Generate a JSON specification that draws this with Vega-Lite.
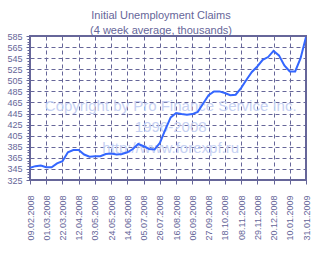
{
  "$schema": "https://vega.github.io/schema/vega-lite/v6.json",
  "width": 276,
  "height": 144,
  "autosize": {"type": "none"},
  "padding": {"left": 30, "top": 36, "right": 15, "bottom": 76},
  "background": "white",
  "title": {
    "text": ["Initial Unemployment Claims", "(4 week average, thousands)"],
    "font": "Liberation Sans",
    "fontSize": 11,
    "fontWeight": "normal",
    "color": "#666699",
    "lineHeight": 15,
    "anchor": "middle",
    "dx": -7,
    "dy": 7,
    "offset": 3
  },
  "config": {
    "view": {"stroke": "#666699", "strokeWidth": 2},
    "axis": {
      "labelFont": "Liberation Sans",
      "labelFontSize": 9,
      "labelColor": "#666699",
      "tickColor": "#666699",
      "domain": false,
      "gridColor": "#666699",
      "gridDash": [4, 3],
      "gridWidth": 1,
      "gridOpacity": 1,
      "title": null
    }
  },
  "data": {"values": [
    {"date": "09.02.2008", "claims": 347},
    {"date": "16.02.2008", "claims": 350},
    {"date": "23.02.2008", "claims": 351},
    {"date": "01.03.2008", "claims": 348},
    {"date": "08.03.2008", "claims": 348},
    {"date": "15.03.2008", "claims": 355},
    {"date": "22.03.2008", "claims": 359},
    {"date": "29.03.2008", "claims": 375},
    {"date": "05.04.2008", "claims": 379},
    {"date": "12.04.2008", "claims": 379},
    {"date": "19.04.2008", "claims": 371},
    {"date": "26.04.2008", "claims": 367},
    {"date": "03.05.2008", "claims": 368},
    {"date": "10.05.2008", "claims": 368},
    {"date": "17.05.2008", "claims": 372},
    {"date": "24.05.2008", "claims": 373},
    {"date": "31.05.2008", "claims": 371},
    {"date": "07.06.2008", "claims": 372},
    {"date": "14.06.2008", "claims": 375},
    {"date": "21.06.2008", "claims": 381},
    {"date": "28.06.2008", "claims": 390},
    {"date": "05.07.2008", "claims": 386},
    {"date": "12.07.2008", "claims": 381},
    {"date": "19.07.2008", "claims": 380},
    {"date": "26.07.2008", "claims": 392},
    {"date": "02.08.2008", "claims": 416},
    {"date": "09.08.2008", "claims": 438},
    {"date": "16.08.2008", "claims": 446},
    {"date": "23.08.2008", "claims": 444},
    {"date": "30.08.2008", "claims": 443},
    {"date": "06.09.2008", "claims": 444},
    {"date": "13.09.2008", "claims": 448},
    {"date": "20.09.2008", "claims": 463},
    {"date": "27.09.2008", "claims": 478},
    {"date": "04.10.2008", "claims": 485},
    {"date": "11.10.2008", "claims": 485},
    {"date": "18.10.2008", "claims": 482},
    {"date": "25.10.2008", "claims": 478},
    {"date": "01.11.2008", "claims": 479},
    {"date": "08.11.2008", "claims": 491},
    {"date": "15.11.2008", "claims": 506},
    {"date": "22.11.2008", "claims": 520},
    {"date": "29.11.2008", "claims": 530},
    {"date": "06.12.2008", "claims": 542},
    {"date": "13.12.2008", "claims": 547},
    {"date": "20.12.2008", "claims": 558},
    {"date": "27.12.2008", "claims": 550},
    {"date": "03.01.2009", "claims": 532},
    {"date": "10.01.2009", "claims": 521},
    {"date": "17.01.2009", "claims": 521},
    {"date": "24.01.2009", "claims": 545},
    {"date": "31.01.2009", "claims": 583}
  ]},
  "encoding": {
    "x": {
      "field": "date",
      "type": "ordinal",
      "sort": null,
      "scale": {
        "type": "point",
        "padding": 0,
        "domain": ["09.02.2008", "16.02.2008", "23.02.2008", "01.03.2008", "08.03.2008", "15.03.2008", "22.03.2008", "29.03.2008", "05.04.2008", "12.04.2008", "19.04.2008", "26.04.2008", "03.05.2008", "10.05.2008", "17.05.2008", "24.05.2008", "31.05.2008", "07.06.2008", "14.06.2008", "21.06.2008", "28.06.2008", "05.07.2008", "12.07.2008", "19.07.2008", "26.07.2008", "02.08.2008", "09.08.2008", "16.08.2008", "23.08.2008", "30.08.2008", "06.09.2008", "13.09.2008", "20.09.2008", "27.09.2008", "04.10.2008", "11.10.2008", "18.10.2008", "25.10.2008", "01.11.2008", "08.11.2008", "15.11.2008", "22.11.2008", "29.11.2008", "06.12.2008", "13.12.2008", "20.12.2008", "27.12.2008", "03.01.2009", "10.01.2009", "17.01.2009", "24.01.2009", "31.01.2009"]
      },
      "axis": {
        "values": ["09.02.2008", "01.03.2008", "22.03.2008", "12.04.2008", "03.05.2008", "24.05.2008", "14.06.2008", "05.07.2008", "26.07.2008", "16.08.2008", "06.09.2008", "27.09.2008", "18.10.2008", "08.11.2008", "29.11.2008", "20.12.2008", "10.01.2009", "31.01.2009"],
        "labelAngle": -90,
        "labelAlign": "right",
        "labelBaseline": "middle",
        "tickSize": 4,
        "labelPadding": 11,
        "grid": true
      }
    }
  },
  "resolve": {"axis": {"y": "independent"}},
  "layer": [
    {
      "data": {"values": [{"date": "09.08.2008", "claims": 459, "note": "watermark"}]},
      "mark": {
        "type": "text",
        "font": "Liberation Sans",
        "fontSize": 15,
        "lineHeight": 21,
        "color": "#c6d1f3",
        "align": "center",
        "baseline": "middle"
      },
      "encoding": {
        "y": {
          "field": "claims",
          "type": "quantitative",
          "scale": {"domain": [325, 585], "nice": false, "zero": false},
          "axis": {
            "orient": "left",
            "values": [325, 345, 365, 385, 405, 425, 445, 465, 485, 505, 525, 545, 565, 585],
            "tickSize": 4,
            "labelPadding": 4,
            "grid": true
          }
        },
        "text": {"value": ["Copyright by Pro Finance Service Inc.", "1996-2008", "http://www.forexpf.ru"]}
      }
    },
    {
      "mark": {"type": "line", "color": "#3366ff", "strokeWidth": 2, "clip": true},
      "encoding": {
        "y": {
          "field": "claims",
          "type": "quantitative",
          "scale": {"domain": [325, 585], "nice": false, "zero": false},
          "axis": {
            "orient": "left",
            "values": [325, 330, 335, 340, 345, 350, 355, 360, 365, 370, 375, 380, 385, 390, 395, 400, 405, 410, 415, 420, 425, 430, 435, 440, 445, 450, 455, 460, 465, 470, 475, 480, 485, 490, 495, 500, 505, 510, 515, 520, 525, 530, 535, 540, 545, 550, 555, 560, 565, 570, 575, 580, 585],
            "labels": false,
            "grid": false,
            "tickSize": 3,
            "offset": 0
          }
        }
      }
    }
  ]
}
